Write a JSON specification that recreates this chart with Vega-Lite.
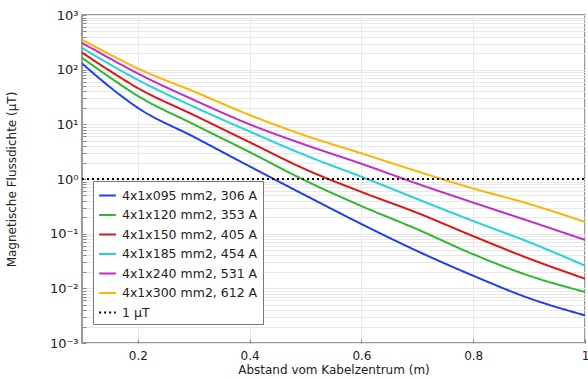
{
  "$schema": "https://vega.github.io/schema/vega-lite/v6.json",
  "width": 503,
  "height": 328,
  "autosize": {"type": "none"},
  "padding": {"left": 82, "top": 15, "right": 3, "bottom": 35},
  "background": "white",
  "config": {
    "font": "DejaVu Sans",
    "view": {"stroke": "#7a7a7a", "strokeWidth": 1.5},
    "axis": {"labelFont": "DejaVu Sans", "titleFont": "DejaVu Sans", "labelFontSize": 12, "titleFontSize": 12, "titleFontWeight": "normal", "labelColor": "#222", "titleColor": "#222", "gridColor": "#e8e8e8", "gridWidth": 1, "domain": false, "tickColor": "#888"}
  },
  "data": {"values": [
    {"x": 0.1, "B": 130, "s": "4x1x095 mm2, 306 A"},
    {"x": 0.15, "B": 48, "s": "4x1x095 mm2, 306 A"},
    {"x": 0.2, "B": 20, "s": "4x1x095 mm2, 306 A"},
    {"x": 0.3, "B": 5.9, "s": "4x1x095 mm2, 306 A"},
    {"x": 0.4, "B": 1.7, "s": "4x1x095 mm2, 306 A"},
    {"x": 0.5, "B": 0.5, "s": "4x1x095 mm2, 306 A"},
    {"x": 0.6, "B": 0.15, "s": "4x1x095 mm2, 306 A"},
    {"x": 0.7, "B": 0.048, "s": "4x1x095 mm2, 306 A"},
    {"x": 0.8, "B": 0.017, "s": "4x1x095 mm2, 306 A"},
    {"x": 0.9, "B": 0.0066, "s": "4x1x095 mm2, 306 A"},
    {"x": 1.0, "B": 0.0032, "s": "4x1x095 mm2, 306 A"},
    {"x": 0.1, "B": 165, "s": "4x1x120 mm2, 353 A"},
    {"x": 0.15, "B": 72, "s": "4x1x120 mm2, 353 A"},
    {"x": 0.2, "B": 33, "s": "4x1x120 mm2, 353 A"},
    {"x": 0.3, "B": 10, "s": "4x1x120 mm2, 353 A"},
    {"x": 0.4, "B": 3.1, "s": "4x1x120 mm2, 353 A"},
    {"x": 0.5, "B": 0.93, "s": "4x1x120 mm2, 353 A"},
    {"x": 0.6, "B": 0.32, "s": "4x1x120 mm2, 353 A"},
    {"x": 0.7, "B": 0.12, "s": "4x1x120 mm2, 353 A"},
    {"x": 0.8, "B": 0.042, "s": "4x1x120 mm2, 353 A"},
    {"x": 0.9, "B": 0.017, "s": "4x1x120 mm2, 353 A"},
    {"x": 1.0, "B": 0.0086, "s": "4x1x120 mm2, 353 A"},
    {"x": 0.1, "B": 205, "s": "4x1x150 mm2, 405 A"},
    {"x": 0.15, "B": 95, "s": "4x1x150 mm2, 405 A"},
    {"x": 0.2, "B": 46, "s": "4x1x150 mm2, 405 A"},
    {"x": 0.3, "B": 14.8, "s": "4x1x150 mm2, 405 A"},
    {"x": 0.4, "B": 4.7, "s": "4x1x150 mm2, 405 A"},
    {"x": 0.5, "B": 1.5, "s": "4x1x150 mm2, 405 A"},
    {"x": 0.6, "B": 0.58, "s": "4x1x150 mm2, 405 A"},
    {"x": 0.7, "B": 0.24, "s": "4x1x150 mm2, 405 A"},
    {"x": 0.8, "B": 0.09, "s": "4x1x150 mm2, 405 A"},
    {"x": 0.9, "B": 0.035, "s": "4x1x150 mm2, 405 A"},
    {"x": 1.0, "B": 0.015, "s": "4x1x150 mm2, 405 A"},
    {"x": 0.1, "B": 250, "s": "4x1x185 mm2, 454 A"},
    {"x": 0.15, "B": 125, "s": "4x1x185 mm2, 454 A"},
    {"x": 0.2, "B": 65, "s": "4x1x185 mm2, 454 A"},
    {"x": 0.3, "B": 21, "s": "4x1x185 mm2, 454 A"},
    {"x": 0.4, "B": 7.4, "s": "4x1x185 mm2, 454 A"},
    {"x": 0.5, "B": 2.7, "s": "4x1x185 mm2, 454 A"},
    {"x": 0.6, "B": 1.1, "s": "4x1x185 mm2, 454 A"},
    {"x": 0.7, "B": 0.43, "s": "4x1x185 mm2, 454 A"},
    {"x": 0.8, "B": 0.17, "s": "4x1x185 mm2, 454 A"},
    {"x": 0.9, "B": 0.07, "s": "4x1x185 mm2, 454 A"},
    {"x": 1.0, "B": 0.026, "s": "4x1x185 mm2, 454 A"},
    {"x": 0.1, "B": 310, "s": "4x1x240 mm2, 531 A"},
    {"x": 0.15, "B": 160, "s": "4x1x240 mm2, 531 A"},
    {"x": 0.2, "B": 85, "s": "4x1x240 mm2, 531 A"},
    {"x": 0.3, "B": 28, "s": "4x1x240 mm2, 531 A"},
    {"x": 0.4, "B": 10, "s": "4x1x240 mm2, 531 A"},
    {"x": 0.5, "B": 4.2, "s": "4x1x240 mm2, 531 A"},
    {"x": 0.6, "B": 1.9, "s": "4x1x240 mm2, 531 A"},
    {"x": 0.7, "B": 0.82, "s": "4x1x240 mm2, 531 A"},
    {"x": 0.8, "B": 0.37, "s": "4x1x240 mm2, 531 A"},
    {"x": 0.9, "B": 0.17, "s": "4x1x240 mm2, 531 A"},
    {"x": 1.0, "B": 0.077, "s": "4x1x240 mm2, 531 A"},
    {"x": 0.1, "B": 355, "s": "4x1x300 mm2, 612 A"},
    {"x": 0.15, "B": 190, "s": "4x1x300 mm2, 612 A"},
    {"x": 0.2, "B": 105, "s": "4x1x300 mm2, 612 A"},
    {"x": 0.3, "B": 40, "s": "4x1x300 mm2, 612 A"},
    {"x": 0.4, "B": 14.8, "s": "4x1x300 mm2, 612 A"},
    {"x": 0.5, "B": 6.2, "s": "4x1x300 mm2, 612 A"},
    {"x": 0.6, "B": 2.95, "s": "4x1x300 mm2, 612 A"},
    {"x": 0.7, "B": 1.38, "s": "4x1x300 mm2, 612 A"},
    {"x": 0.8, "B": 0.67, "s": "4x1x300 mm2, 612 A"},
    {"x": 0.9, "B": 0.35, "s": "4x1x300 mm2, 612 A"},
    {"x": 1.0, "B": 0.164, "s": "4x1x300 mm2, 612 A"},
    {"x": 0.1, "B": 1, "s": "1 µT"},
    {"x": 1.0, "B": 1, "s": "1 µT"}
  ]},
  "mark": {"type": "line", "clip": true, "strokeCap": "butt", "interpolate": "monotone"},
  "encoding": {
    "x": {
      "field": "x", "type": "quantitative",
      "scale": {"domain": [0.1, 1], "nice": false, "zero": false},
      "axis": {"title": "Abstand vom Kabelzentrum (m)", "values": [0.2, 0.4, 0.6, 0.8, 1], "labelExpr": "datum.value == 1 ? '1' : format(datum.value, '.1f')", "tickSize": -4, "labelPadding": 11, "labelFlush": false, "labelBound": false, "titlePadding": 3}
    },
    "y": {
      "field": "B", "type": "quantitative",
      "scale": {"type": "log", "domain": [0.001, 1000], "nice": false},
      "axis": {
        "title": "Magnetische Flussdichte (µT)",
        "values": [0.001,0.002,0.003,0.004,0.005,0.006,0.007,0.008,0.009,0.01,0.02,0.03,0.04,0.05,0.06,0.07,0.08,0.09,0.1,0.2,0.3,0.4,0.5,0.6,0.7,0.8,0.9,1,2,3,4,5,6,7,8,9,10,20,30,40,50,60,70,80,90,100,200,300,400,500,600,700,800,900,1000],
        "labelExpr": "datum.value == 1000 ? '10³' : datum.value == 100 ? '10²' : datum.value == 10 ? '10¹' : datum.value == 1 ? '10⁰' : datum.value == 0.1 ? '10⁻¹' : datum.value == 0.01 ? '10⁻²' : datum.value == 0.001 ? '10⁻³' : ''",
        "labelOverlap": false,
        "labelFontSize": 13,
        "tickSize": -4,
        "labelPadding": 8,
        "titleX": -64
      }
    },
    "color": {
      "field": "s", "type": "nominal",
      "scale": {"domain": ["4x1x095 mm2, 306 A","4x1x120 mm2, 353 A","4x1x150 mm2, 405 A","4x1x185 mm2, 454 A","4x1x240 mm2, 531 A","4x1x300 mm2, 612 A","1 µT"], "range": ["#1f3ff0","#2eb82e","#e01414","#22d4d8","#c42bc8","#ffb400","#000000"]},
      "legend": {
        "title": null, "orient": "none", "legendX": 11, "legendY": 166,
        "symbolType": "stroke", "symbolSize": 280, "symbolStrokeWidth": 1.5,
        "labelFontSize": 12.5, "labelFont": "DejaVu Sans", "labelColor": "#222", "labelLimit": 300,
        "rowPadding": 3.5, "padding": 5, "fillColor": "white", "strokeColor": "#777", "cornerRadius": 0, "labelOffset": 5
      }
    },
    "strokeDash": {
      "field": "s", "type": "nominal",
      "scale": {"domain": ["4x1x095 mm2, 306 A","4x1x120 mm2, 353 A","4x1x150 mm2, 405 A","4x1x185 mm2, 454 A","4x1x240 mm2, 531 A","4x1x300 mm2, 612 A","1 µT"], "range": [[1,0],[1,0],[1,0],[1,0],[1,0],[1,0],[2,3]]},
      "legend": {"title": null}
    },
    "strokeWidth": {
      "field": "s", "type": "nominal",
      "scale": {"domain": ["4x1x095 mm2, 306 A","4x1x120 mm2, 353 A","4x1x150 mm2, 405 A","4x1x185 mm2, 454 A","4x1x240 mm2, 531 A","4x1x300 mm2, 612 A","1 µT"], "range": [2,2,2,2,2,2,3]},
      "legend": null
    }
  }
}
